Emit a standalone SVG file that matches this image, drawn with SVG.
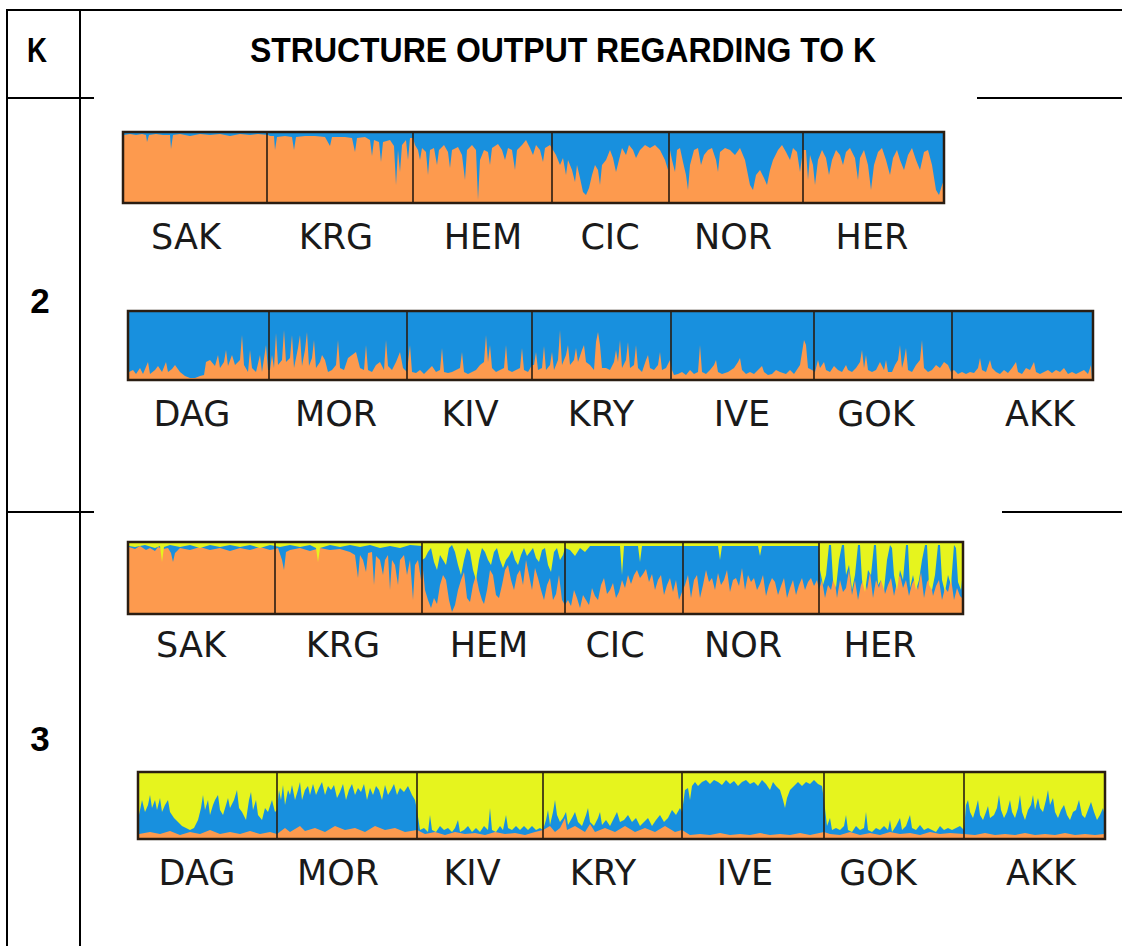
<svg xmlns="http://www.w3.org/2000/svg" width="1122" height="946" viewBox="0 0 1122 946">
<style>
.tl{stroke:#000;stroke-width:2;fill:none}
.hd{font-family:"Liberation Sans",Arial,sans-serif;font-weight:bold;font-size:35px;fill:#000}
.lb{font-family:"DejaVu Sans",Verdana,sans-serif;font-size:35px;fill:#1a1a1a;text-anchor:middle}
.fr{fill:none;stroke:#2a1d12;stroke-width:2.5}
.dv{stroke:#2a1d12;stroke-width:1.6}
.o{fill:#FD9A4E}
.b{fill:#1890DE}
.y{fill:#E6F41E}
</style>
<rect width="1122" height="946" fill="#fff"/>
<g id="table">
<path class="tl" d="M6,10H1122M7,10V946M80,10V946M6,98H94M977,98H1122M6,512H94M1002,512H1122"/>
</g>
<g id="header">
<text class="hd" x="37" y="62" text-anchor="middle" textLength="20" lengthAdjust="spacingAndGlyphs">K</text>
<text class="hd" x="250" y="62" textLength="626" lengthAdjust="spacingAndGlyphs">STRUCTURE OUTPUT REGARDING TO K</text>
</g>
<g id="row-k2-label"><text class="hd" x="40" y="313" text-anchor="middle">2</text></g>
<g id="row-k3-label"><text class="hd" x="40" y="751" text-anchor="middle">3</text></g>

<g id="k2-top">
<rect class="o" x="123" y="132" width="821" height="71"/>
<path class="b" d="M124,132 L124,135 130,134 136,135 142,134 146,135 147,142 149,135 156,134 163,135 170,135 171,149 173,135 180,134 190,136 200,134 210,135 220,134 230,136 240,134 250,135 258,134 268,135 270,136 274,136 275,150 277,137 285,136 292,137 294,150 296,137 305,136 315,136 325,137 330,146 332,137 345,137 352,138 355,152 357,138 365,137 370,140 372,156 374,140 379,142 381,162 383,142 390,140 394,146 396,185 398,150 400,172 402,145 406,140 408,160 410,138 413,138 415,145 418,150 420,160 422,148 426,152 428,175 430,150 434,148 437,165 439,150 444,145 448,152 450,168 452,150 458,147 462,155 465,180 467,150 472,145 476,150 478,200 480,160 484,150 488,152 490,165 492,148 498,144 502,150 505,160 508,148 512,150 515,170 517,150 522,145 526,140 530,148 533,155 536,145 540,150 543,162 545,148 550,145 553,150 556,155 560,165 563,158 566,175 568,160 572,170 575,182 577,165 580,178 583,192 586,195 589,188 592,175 595,165 598,170 600,185 602,165 606,160 610,150 613,158 616,172 619,160 622,148 626,155 629,145 633,150 636,158 640,150 645,145 650,148 655,145 660,150 665,160 668,170 670,150 672,160 675,172 677,150 680,148 683,162 686,175 688,190 690,165 694,150 698,148 701,165 704,155 708,150 712,148 716,160 718,172 720,152 725,148 730,150 735,155 740,148 745,160 748,175 750,185 753,190 756,175 760,170 764,178 767,185 770,170 773,160 778,150 782,145 786,152 790,160 793,148 797,152 800,172 803,150 806,150 808,180 810,155 813,165 815,185 818,160 822,150 826,158 829,175 832,160 836,150 840,155 843,165 846,152 850,148 855,158 858,180 860,158 864,150 868,165 871,190 874,165 878,152 882,148 886,160 890,175 893,158 897,150 900,160 904,170 908,155 912,148 916,160 920,170 924,152 928,150 932,165 936,190 939,195 942,185 944,180 L944,132 Z"/>
<path class="dv" d="M267,132V203M413,132V203M552,132V203M669,132V203M803,132V203"/>
<rect class="fr" x="123" y="132" width="821" height="71"/>
</g>
<g id="k2-top-labels">
<text class="lb" x="186" y="249">SAK</text>
<text class="lb" x="336" y="249">KRG</text>
<text class="lb" x="483" y="249">HEM</text>
<text class="lb" x="610" y="249">CIC</text>
<text class="lb" x="733" y="249">NOR</text>
<text class="lb" x="872" y="249">HER</text>
</g>

<g id="k2-bottom">
<rect class="b" x="128" y="311" width="965" height="69"/>
<path class="o" d="M129,380 L129,372 133,370 136,374 140,368 143,374 148,362 150,374 155,370 158,366 162,372 166,362 168,372 172,369 175,365 180,372 185,376 190,378 195,378 200,376 204,375 206,362 210,360 215,366 218,355 220,368 224,362 226,350 228,366 232,355 235,365 240,360 242,335 244,365 248,372 250,350 252,368 256,372 260,355 262,372 266,345 268,370 270,370 272,355 274,368 276,333 278,365 282,360 284,330 286,362 290,358 292,335 294,368 298,348 300,335 302,366 305,350 307,332 309,366 312,358 314,340 316,368 320,362 322,355 325,360 328,372 332,370 336,365 338,340 340,368 344,370 348,358 352,355 356,352 360,368 364,370 366,345 368,370 372,372 376,365 380,362 384,370 386,340 388,366 392,370 396,362 400,352 403,368 405,370 407,372 410,345 412,372 416,373 420,370 424,374 428,370 432,366 436,372 440,370 442,348 444,372 448,373 452,372 456,370 460,368 462,352 464,372 468,374 472,372 476,370 480,365 484,362 486,335 488,362 490,345 492,368 496,372 500,370 504,368 506,345 508,370 512,372 516,370 520,368 522,348 524,370 528,372 532,365 534,365 536,352 538,370 542,368 544,346 546,370 550,365 552,352 554,370 558,360 560,330 562,365 566,355 568,345 570,365 574,360 576,348 578,362 582,350 584,345 586,362 590,365 594,370 596,342 598,332 600,345 602,368 606,368 610,370 614,362 616,350 618,362 620,340 622,368 626,360 628,342 630,368 634,365 636,345 638,368 642,372 646,360 648,355 650,368 654,370 658,365 660,352 662,370 666,368 670,360 672,370 674,375 678,374 682,372 686,375 690,370 694,374 698,372 700,345 702,372 706,374 710,370 714,365 716,360 718,372 722,374 728,372 734,368 738,362 740,358 742,370 746,374 750,372 754,374 758,370 762,366 764,372 768,375 772,374 776,370 780,372 786,374 790,370 794,374 800,365 804,340 806,345 808,368 812,370 815,372 818,360 820,368 824,362 826,370 830,372 834,366 838,370 842,372 846,365 848,370 852,372 856,368 860,362 862,350 864,368 866,355 868,370 872,372 876,370 880,362 884,370 886,360 888,372 892,372 895,365 898,360 900,345 902,368 904,360 906,348 908,370 912,372 916,365 920,360 922,340 924,368 928,372 932,370 936,365 940,368 944,362 948,365 951,372 954,370 958,374 962,372 966,374 970,372 974,373 978,368 980,358 982,370 986,372 990,360 992,368 996,372 1000,374 1004,370 1008,373 1012,368 1016,362 1018,372 1022,374 1026,368 1030,370 1034,362 1036,372 1040,374 1044,372 1048,370 1052,373 1056,370 1060,372 1064,368 1068,374 1072,372 1076,374 1080,372 1084,370 1088,374 1091,365 L1092,380 Z"/>
<path class="dv" d="M269,311V380M407,311V380M532,311V380M671,311V380M814,311V380M952,311V380"/>
<rect class="fr" x="128" y="311" width="965" height="69"/>
</g>
<g id="k2-bottom-labels">
<text class="lb" x="192" y="426">DAG</text>
<text class="lb" x="336" y="426">MOR</text>
<text class="lb" x="470" y="426">KIV</text>
<text class="lb" x="601" y="426">KRY</text>
<text class="lb" x="742" y="426">IVE</text>
<text class="lb" x="876" y="426">GOK</text>
<text class="lb" x="1040" y="426">AKK</text>
</g>

<g id="k3-top">
<rect class="o" x="128" y="542" width="835" height="72"/>
<path class="b" d="M129,543 L129,547 135,549 140,546 146,550 150,548 155,551 158,547 163,549 168,548 171,553 173,562 175,553 180,548 190,550 200,547 210,550 220,548 230,551 240,548 250,550 260,547 270,550 275,549 278,548 282,560 284,570 286,552 290,550 300,548 310,551 320,548 330,550 340,549 350,552 355,555 358,578 360,555 363,560 366,572 368,553 372,552 374,585 376,556 380,560 383,575 385,560 388,555 390,590 392,560 395,565 398,585 400,560 404,555 407,575 410,560 413,600 415,565 418,560 421,580 422,560 425,590 428,600 431,608 434,598 437,604 440,585 443,575 446,580 449,600 452,612 455,605 458,590 461,580 464,572 467,598 470,602 473,585 476,575 479,590 482,600 484,604 487,590 490,570 493,575 496,595 499,598 502,585 505,570 508,565 511,580 514,590 517,575 520,570 523,585 526,560 529,575 532,590 535,568 538,578 541,590 544,600 547,585 550,578 553,600 556,594 559,575 562,600 565,605 568,600 571,606 574,590 577,598 580,608 583,595 586,600 589,605 592,588 595,596 598,600 601,585 604,578 607,594 610,590 613,583 616,598 619,592 622,580 625,588 628,575 631,584 634,575 637,570 640,578 643,574 646,569 649,582 652,574 655,590 658,580 661,575 664,595 667,585 670,578 673,592 676,580 679,600 682,592 685,585 688,575 691,598 694,580 697,575 700,598 703,585 706,570 709,582 712,578 715,590 718,573 721,585 724,580 727,570 730,592 733,580 736,578 739,586 742,568 745,590 748,575 751,582 754,578 757,590 760,584 763,575 766,596 769,585 772,578 775,582 778,595 781,586 784,578 787,598 790,588 793,580 796,595 799,585 802,578 805,590 808,582 811,578 814,586 817,580 819,590 822,580 825,598 828,585 831,590 834,575 837,598 840,580 843,592 846,588 849,570 852,595 855,580 858,600 861,585 864,578 867,590 870,572 873,598 876,580 879,588 882,575 885,594 888,585 891,578 894,596 897,582 900,575 903,588 906,580 909,596 912,584 915,578 918,590 921,572 924,598 927,582 930,578 933,596 936,586 939,580 942,600 945,588 948,592 951,578 954,600 957,588 960,596 962,598 L962,543 Z"/>
<path class="y" d="M129,543 L129,546 135,547 145,545 155,548 160,546 162,562 164,547 170,545 180,547 190,545 200,548 210,545 220,547 230,545 240,547 250,545 260,548 270,545 280,547 290,545 300,547 310,545 316,548 318,562 320,548 330,545 340,547 350,545 360,547 370,545 380,548 390,546 400,548 410,545 422,546 L422,543 Z"/>
<path class="y" d="M422,543 L422,560 425,558 428,552 431,548 434,562 437,570 440,555 443,560 446,565 449,548 452,545 455,552 458,565 461,575 464,560 467,548 470,552 473,570 476,580 479,560 482,548 485,552 488,560 491,565 494,552 497,548 500,560 503,568 506,560 509,556 512,550 515,560 518,565 521,555 524,548 527,556 530,552 533,548 536,558 539,562 542,550 545,548 548,565 551,572 554,552 557,548 560,560 563,555 565,548 570,550 575,556 580,548 585,552 590,546 620,546 622,575 624,546 638,546 640,562 642,546 718,546 720,560 722,546 758,546 760,556 762,546 819,546 L819,543 Z"/>
<path class="y" d="M819,543 L820,570 823,585 826,575 829,545 831,545 833,580 836,588 839,560 842,545 844,545 846,575 849,565 852,590 855,575 858,545 860,545 862,580 865,592 868,570 871,575 874,545 876,545 878,585 881,580 884,590 887,560 890,545 892,548 894,575 897,590 900,570 903,580 906,545 908,545 910,588 913,575 916,590 919,580 922,560 925,545 927,545 929,585 932,590 935,575 938,545 940,545 942,580 945,592 948,575 951,585 954,545 956,548 958,582 961,590 962,580 L962,543 Z"/>
<path class="dv" d="M275,542V614M422,542V614M565,542V614M683,542V614M819,542V614"/>
<rect class="fr" x="128" y="542" width="835" height="72"/>
</g>
<g id="k3-top-labels">
<text class="lb" x="191" y="657">SAK</text>
<text class="lb" x="343" y="657">KRG</text>
<text class="lb" x="489" y="657">HEM</text>
<text class="lb" x="615" y="657">CIC</text>
<text class="lb" x="743" y="657">NOR</text>
<text class="lb" x="880" y="657">HER</text>
</g>

<g id="k3-bottom">
<rect class="y" x="138" y="772" width="967" height="67"/>
<path class="b" d="M139,839 L139,815 142,800 145,812 148,805 150,795 152,808 155,800 157,810 160,798 162,812 165,805 168,800 170,812 174,818 178,822 182,826 186,828 190,830 194,828 198,820 201,808 203,795 205,810 208,800 210,815 213,805 215,800 218,795 220,810 223,815 226,805 228,798 230,808 234,800 237,790 239,808 242,812 246,820 249,800 251,792 253,810 256,800 258,815 262,820 265,808 268,812 272,800 275,812 277,810 279,790 281,800 283,785 285,805 288,790 290,795 292,785 295,800 298,790 300,782 302,800 305,790 308,786 310,795 313,784 316,795 319,788 322,782 325,795 328,786 331,790 334,785 337,798 340,792 343,784 346,800 349,790 352,784 355,795 358,788 361,792 364,784 367,800 370,788 373,795 376,786 379,790 382,800 385,785 388,795 391,790 394,784 397,795 400,788 404,792 408,786 412,795 415,800 417,810 420,830 424,828 428,832 430,815 432,830 436,832 440,826 444,830 448,828 452,832 455,828 458,820 460,832 464,830 468,826 472,832 476,828 480,832 484,826 488,830 490,808 492,830 496,832 500,826 503,830 506,815 508,828 512,830 516,826 520,830 524,826 528,830 532,826 536,830 540,828 543,830 546,820 548,810 550,825 553,812 555,800 557,815 560,822 563,818 566,812 568,825 572,818 575,812 578,822 582,826 586,815 588,808 590,822 594,826 598,818 600,812 602,825 606,820 610,826 614,818 617,812 620,822 624,820 628,815 632,822 636,818 640,826 644,822 648,818 652,826 656,820 660,815 664,822 668,818 672,810 676,815 680,808 682,812 685,790 688,788 690,800 692,786 695,782 698,786 702,782 706,780 710,784 714,780 718,782 722,785 726,780 730,784 734,781 738,786 742,782 746,780 750,784 754,782 758,786 762,780 766,784 770,790 773,782 776,786 780,790 783,800 785,808 787,798 790,790 794,786 798,782 802,786 806,782 810,784 814,780 818,784 822,786 824,800 827,826 830,818 832,830 836,828 840,830 844,826 846,815 848,830 852,832 856,826 860,830 864,828 866,812 868,830 872,832 876,828 880,830 884,826 888,830 890,820 892,832 896,826 900,818 902,830 906,826 910,815 912,828 916,830 920,825 924,830 928,828 932,830 936,832 940,826 944,830 948,828 952,830 956,828 960,826 964,830 966,805 968,800 970,812 973,818 976,808 978,800 980,815 983,820 986,812 988,806 990,818 994,815 997,808 999,795 1001,810 1004,818 1007,812 1010,800 1012,812 1015,818 1018,808 1020,795 1022,812 1025,820 1028,810 1031,805 1033,795 1035,810 1038,798 1040,808 1043,812 1046,800 1048,790 1050,805 1053,798 1055,812 1058,818 1061,810 1064,805 1067,815 1070,820 1073,812 1076,810 1079,800 1082,815 1085,818 1088,810 1091,802 1094,812 1097,820 1100,815 1103,808 1104,812 L1104,839 Z"/>
<path class="o" d="M139,839 L139,834 150,832 160,834 170,831 180,835 190,832 200,834 210,830 220,834 230,832 240,834 250,831 260,834 270,832 277,834 285,828 290,832 300,826 305,831 315,828 325,832 335,826 345,830 355,828 365,832 375,826 385,830 395,828 405,832 417,830 425,834 435,832 445,835 455,832 465,834 475,833 485,835 495,832 505,834 515,833 525,835 535,832 543,830 550,826 555,832 560,828 565,818 567,830 575,826 585,832 590,824 595,832 605,828 615,832 625,826 635,832 645,828 655,832 665,826 675,832 682,830 690,835 700,834 710,835 720,833 730,835 740,834 750,835 760,833 770,835 780,834 790,835 800,833 810,835 824,832 830,834 840,835 850,832 860,835 870,833 880,835 890,832 900,834 910,833 920,835 930,832 940,834 950,833 964,834 975,835 985,833 995,835 1005,834 1015,835 1025,833 1035,835 1045,834 1055,835 1065,833 1075,835 1085,834 1095,835 1104,834 L1104,839 Z"/>
<path class="dv" d="M277,772V839M417,772V839M543,772V839M682,772V839M824,772V839M964,772V839"/>
<rect class="fr" x="138" y="772" width="967" height="67"/>
</g>
<g id="k3-bottom-labels">
<text class="lb" x="197" y="885">DAG</text>
<text class="lb" x="338" y="885">MOR</text>
<text class="lb" x="472" y="885">KIV</text>
<text class="lb" x="603" y="885">KRY</text>
<text class="lb" x="745" y="885">IVE</text>
<text class="lb" x="878" y="885">GOK</text>
<text class="lb" x="1041" y="885">AKK</text>
</g>
</svg>
